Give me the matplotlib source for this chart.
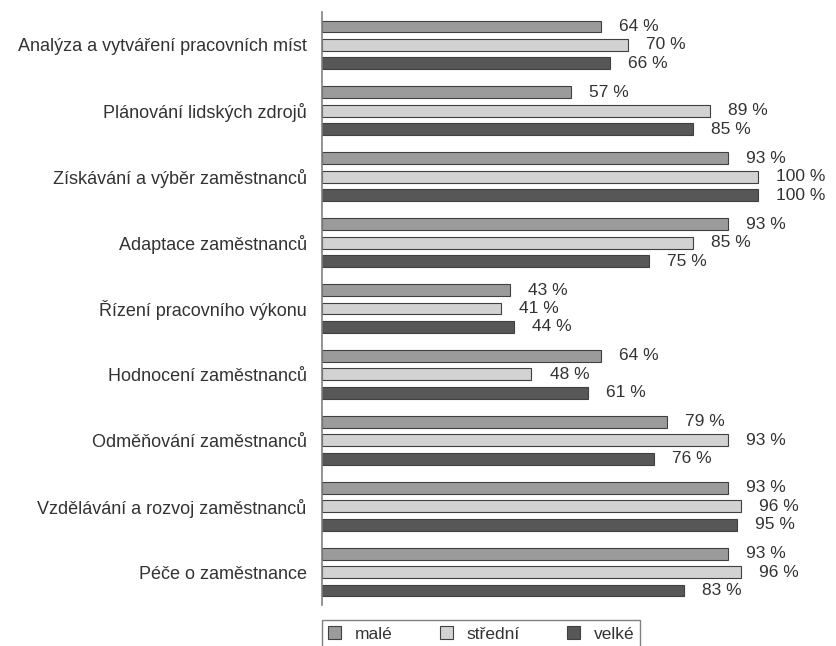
import numpy as np
import matplotlib.pyplot as plt

categories = ['Analýza a vytváření pracovních míst', 'Plánování lidských zdrojů',
              'Získávání a výběr zaměstnanců', 'Adaptace zaměstnanců',
              'Řízení pracovního výkonu', 'Hodnocení zaměstnanců',
              'Odměňování zaměstnanců', 'Vzdělávání a rozvoj zaměstnanců',
              'Péče o zaměstnance']
male = [64, 57, 93, 93, 43, 64, 79, 93, 93]
stredni = [70, 89, 100, 85, 41, 48, 93, 96, 96]
velke = [66, 85, 100, 75, 44, 61, 76, 95, 83]

series = [('malé', male, '#9b9b9b'),
          ('střední', stredni, '#d2d2d2'),
          ('velké', velke, '#575757')]

plt.rcParams['font.family'] = ['Liberation Sans', 'DejaVu Sans']

fig = plt.figure(figsize=(8.37, 6.46), dpi=100)
ax = fig.add_axes([0.3847, 0.0635, 0.6153, 0.918])

y = np.arange(len(categories))
h = 0.18
step = 0.28

for k, (name, vals, col) in enumerate(series):
    pos = y + (k - 1) * step
    ax.barh(pos, vals, height=h, color=col, edgecolor='#404040', linewidth=0.8, label=name)
    for p, v in zip(pos, vals):
        ax.annotate(f'{v} %', (v, p), xytext=(13, 0), textcoords='offset points',
                    va='center', ha='left', fontsize=12.5, color='#333333',
                    annotation_clip=False)

ax.set_xlim(0, 118)
ax.set_ylim(len(categories) - 0.5, -0.5)
ax.set_yticks(y)
ax.set_yticklabels(categories, fontsize=13, color='#333333')
ax.tick_params(axis='y', length=0, pad=11)
ax.set_xticks([])
for s in ['top', 'right', 'bottom']:
    ax.spines[s].set_visible(False)
ax.spines['left'].set_color('#808080')
ax.spines['left'].set_linewidth(1.2)

leg = fig.legend(loc='upper left', bbox_to_anchor=(0.3847, 0.0402), ncol=3,
                 fontsize=12.5, frameon=True, fancybox=False, handlelength=0.75,
                 handleheight=0.75, columnspacing=2.7, handletextpad=0.8,
                 borderpad=0.35, borderaxespad=0, labelcolor='#333333')
leg.get_frame().set_edgecolor('#606060')
leg.get_frame().set_linewidth(1.0)

fig.savefig('out.png', dpi=100)
